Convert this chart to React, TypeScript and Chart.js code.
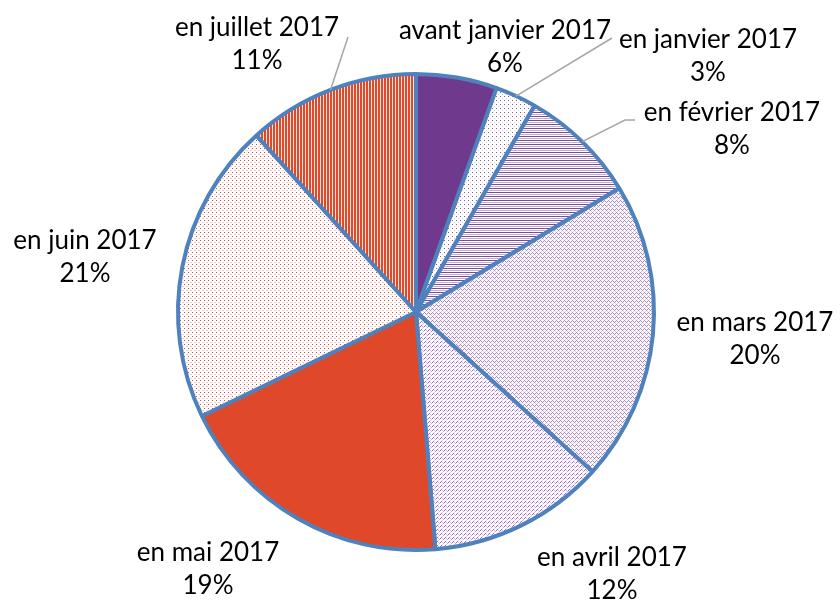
import React, { useEffect, useRef } from "react";
import { Chart, registerables } from "chart.js";

Chart.register(...registerables);

const categories = [
  "avant janvier 2017",
  "en janvier 2017",
  "en février 2017",
  "en mars 2017",
  "en avril 2017",
  "en mai 2017",
  "en juin 2017",
  "en juillet 2017",
];
const shares = [5.5, 2.8, 8.0, 20.4, 12.0, 19.1, 20.5, 11.7];
const percentLabels = ["6%", "3%", "8%", "20%", "12%", "19%", "21%", "11%"];

// label text centres relative to pie centre (layout only)
const labelOffsets: [number, number][] = [
  [89, -281],
  [292, -272],
  [316, -199],
  [339, 11],
  [196, 246],
  [-208, 241],
  [-331, -71],
  [-159, -284],
];
// leader line end points relative to pie centre (null = no leader)
const leaderEnds: ([number, number][] | null)[] = [
  null,
  [[196, -274]],
  [[209, -192], [219, -192]],
  null,
  null,
  null,
  null,
  [[-68, -275]],
];

function makePattern(w: number, h: number, draw: (g: CanvasRenderingContext2D) => void) {
  const c = document.createElement("canvas");
  c.width = w;
  c.height = h;
  const g = c.getContext("2d")!;
  draw(g);
  return g.createPattern(c, "repeat")!;
}

function px(g: CanvasRenderingContext2D, x: number, y: number, col: string, w = 1, h = 1) {
  g.fillStyle = col;
  g.fillRect(x, y, w, h);
}

export default function App() {
  const ref = useRef<HTMLCanvasElement>(null);
  useEffect(() => {
    const purple = "#6F3A8D";
    const red = "#E0482A";
    const pJan = makePattern(4, 4, (g) => {
      px(g, 0, 0, "#ffffff", 4, 4);
      px(g, 0, 0, "#7E5A9B");
      px(g, 2, 2, "#D8CAE4");
    });
    const pFeb = makePattern(1, 4, (g) => {
      px(g, 0, 0, "#ffffff", 1, 4);
      px(g, 0, 0, "#7A4C98");
      px(g, 0, 2, "#C3ADD4");
    });
    const pMar = makePattern(4, 4, (g) => {
      px(g, 0, 0, "#ffffff", 4, 4);
      px(g, 0, 0, "#AA82C6");
      px(g, 1, 1, "#AA82C6");
      px(g, 2, 2, "#AA82C6");
      px(g, 3, 1, "#AA82C6");
      px(g, 1, 3, "#E2D4EC");
      px(g, 3, 3, "#E2D4EC");
    });
    const pApr = makePattern(4, 4, (g) => {
      px(g, 0, 0, "#ffffff", 4, 4);
      px(g, 0, 2, "#9C66C0");
      px(g, 1, 1, "#9C66C0");
      px(g, 2, 2, "#D3BCE6");
      px(g, 3, 3, "#C8AADF");
      px(g, 2, 0, "#E0CEEE");
    });
    const pJun = makePattern(4, 4, (g) => {
      px(g, 0, 0, "#ffffff", 4, 4);
      px(g, 0, 0, "#C0504D");
      px(g, 2, 2, "#FBCBC2", 2, 1);
    });
    const pJul = makePattern(3, 1, (g) => {
      px(g, 0, 0, red, 2, 1);
      px(g, 2, 0, "#FCE6E0");
    });
    const fills: any[] = [purple, pJan, pFeb, pMar, pApr, red, pJun, pJul];

    const labelPlugin = {
      id: "extLabels",
      afterDraw(chart: any) {
        const ctx = chart.ctx;
        const meta = chart.getDatasetMeta(0);
        const a0 = meta.data[0];
        const cx = a0.x;
        const cy = a0.y;
        ctx.save();
        ctx.strokeStyle = "#A6A6A6";
        ctx.lineWidth = 1.5;
        meta.data.forEach((arc: any, i: number) => {
          const ends = leaderEnds[i];
          if (!ends) return;
          const mid = (arc.startAngle + arc.endAngle) / 2;
          const r = arc.outerRadius;
          ctx.beginPath();
          ctx.moveTo(cx + Math.cos(mid) * r, cy + Math.sin(mid) * r);
          ends.forEach(([dx, dy]) => ctx.lineTo(cx + dx, cy + dy));
          ctx.stroke();
        });
        ctx.fillStyle = "#000000";
        ctx.font = "26px Lato, sans-serif";
        ctx.textAlign = "center";
        ctx.textBaseline = "middle";
        categories.forEach((c, i) => {
          const [dx, dy] = labelOffsets[i];
          ctx.fillText(c, cx + dx, cy + dy);
          ctx.fillText(percentLabels[i], cx + dx, cy + dy + 33);
        });
        ctx.restore();
      },
    };

    const chart = new Chart(ref.current!, {
      type: "pie",
      data: {
        labels: categories,
        datasets: [
          {
            data: shares,
            backgroundColor: fills,
            borderColor: "#4F81BD",
            borderWidth: 4,
            radius: 238,
          } as any,
        ],
      },
      options: {
        animation: false,
        responsive: false,
        maintainAspectRatio: false,
        layout: { padding: { left: 0, right: 8, top: 18, bottom: 0 } },
        plugins: { legend: { display: false }, tooltip: { enabled: false } },
      },
      plugins: [labelPlugin],
    });
    return () => chart.destroy();
  }, []);
  return (
    <div style={{ position: "fixed", left: 0, top: 0, width: 840, height: 606, background: "#fff" }}>
      <canvas ref={ref} width={840} height={606} style={{ width: 840, height: 606 }} />
    </div>
  );
}
